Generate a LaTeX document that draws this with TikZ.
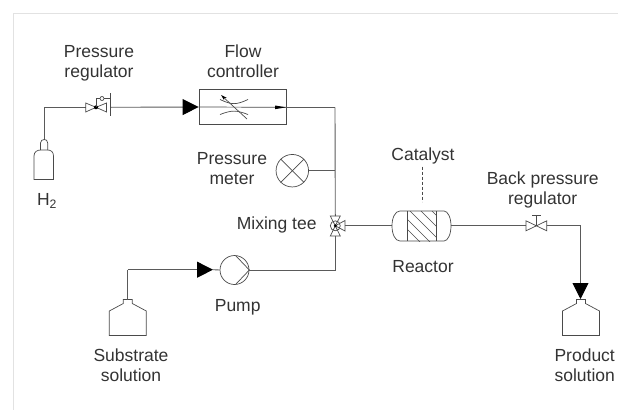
\documentclass[tikz,border=0pt]{standalone}
\usepackage{fontspec}
\setmainfont{Liberation Sans}
\usetikzlibrary{arrows.meta}
\definecolor{pipegray}{HTML}{5A5A5A}
\definecolor{symbgray}{HTML}{4A4A4A}
\definecolor{textgray}{HTML}{333333}
\definecolor{framegray}{HTML}{E2E2E2}
\tikzset{
  pipe/.style   = {draw=pipegray, line width=0.9pt},
  feed/.style   = {pipe, -{Triangle[length=16pt, width=16pt, color=black]}},
  symb/.style   = {draw=symbgray, line width=0.7pt},
  lbl/.style    = {align=center, inner sep=0pt, text=textgray,
                   font=\fontsize{17.5}{20}\selectfont},
  bottle/.pic   = {
    \draw[symb] (-18.5,36) -- (-18.5,11.5) -- (-4.5,4) -- (-4.5,0) -- (4.5,0)
      -- (4.5,4) -- (18.5,11.5) -- (18.5,36) -- cycle;
  },
}
\begin{document}
\begin{tikzpicture}[x=1pt, y=-1pt]
  \useasboundingbox (0,0) rectangle (618,410);
  % frame
  \draw[framegray, line width=1pt] (13.5,410) -- (13.5,13) -- (618,13);
  % hydrogen line
  \coordinate (cylTop) at (44.7,139.5);
  \coordinate (h2Bend) at (44.7,107.3);
  \coordinate (regIn) at (85.7,107.3);
  \coordinate (regOut) at (110,107.3);
  \node[draw=symbgray, line width=0.8pt, minimum width=87pt, minimum height=34.5pt,
    inner sep=0pt] (ctrl) at (242.5,107) {};
  \coordinate (ctrlOut) at (286,107.3);
  \coordinate (topBend) at (335,107.3);
  \draw[pipe] (cylTop) -- (h2Bend) -- (regIn);
  \draw[feed] (regOut) -- (ctrl.west);
  \draw[symb] (ctrl.west) -- (ctrlOut);
  \draw[pipe] (ctrlOut) -- (topBend);
  % gas cylinder
  \draw[symb] (40.5,150) -- (40.5,143) .. controls (40.5,140.5) and (42.5,139.5) .. (44.2,139.5)
    .. controls (46,139.5) and (47.7,140.5) .. (47.7,143) -- (47.7,150);
  \draw[symb] (34,179.5) -- (34,156) .. controls (34,152) and (37,150) .. (40.5,150)
    -- (47.7,150) .. controls (51,150) and (53.5,152) .. (53.5,156) -- (53.5,179.5) -- cycle;
  % pressure regulator
  \draw[symb] (96,107.3) -- (85.7,103) -- (85.7,112) -- cycle;
  \draw[symb] (96,107.3) -- (106.5,103) -- (106.5,112) -- cycle;
  \fill[black] (96,107.3) circle (2);
  \draw[symb] (96,107.3) -- (96,98.5) -- (100,98.5);
  \draw[symb] (102,98.5) circle (2);
  \draw[symb] (104,98.5) -- (110,98.5);
  \draw[symb] (110,93) -- (110,115.5);
  % flow controller
  \draw[symb] (220,99.5) .. controls (232,105) and (236,105) .. (248,99.5);
  \draw[symb] (220,114.5) .. controls (232,110) and (236,110) .. (248,114.5);
  \draw[symb, -{Stealth[length=6pt, width=3.5pt, color=black]}] (247,119) -- (221,95);
  \draw[fill=black, draw=none] (286,107.3) -- (275,105.5) -- (275,109.2) -- cycle;
  % pressure meter
  \node[draw=symbgray, line width=0.7pt, circle, minimum size=32.5pt, inner sep=0pt] (meter)
    at (292.3,170.7) {};
  \draw[symb] (meter.north west) -- (meter.south east);
  \draw[symb] (meter.north east) -- (meter.south west);
  \coordinate (meterTap) at (335,170.7);
  \draw[pipe] (meter.east) -- (meterTap);
  % mixing tee
  \coordinate (tee) at (335.3,225.8);
  \coordinate (teeTop) at (335.3,216);
  \coordinate (teeBot) at (335.3,236);
  \coordinate (teeRight) at (345,225.8);
  \draw[pipe] (topBend) -- (teeTop);
  \draw[symb] (tee) -- (330.3,216) -- (340.3,216) -- cycle;
  \draw[symb] (tee) -- (330.3,236) -- (340.3,236) -- cycle;
  \draw[symb] (tee) -- (345,220.5) -- (345,231) -- cycle;
  \draw[symb] (tee) circle (5);
  \fill[black] (tee) circle (1.6);
  % reactor
  \coordinate (reacIn) at (392,225.8);
  \coordinate (reacOut) at (451,225.8);
  \draw[pipe] (teeRight) -- (reacIn);
  \draw[symb] (407,211) -- (400,211) .. controls (395,211) and (392,218) .. (392,225.8)
    .. controls (392,234) and (395,241) .. (400,241) -- (436.7,241)
    -- (444,241) .. controls (448,241) and (451,234) .. (451,225.8)
    .. controls (451,218) and (448,211) .. (444,211) -- (407,211);
  \draw[symb] (407,211) -- (407,241);
  \draw[symb] (436.7,211) -- (436.7,241);
  \begin{scope}
    \clip (407,211) rectangle (436.7,241);
    \foreach \s in {-25,-14,-3,8,18}{
      \draw[symb] (407,211+\s) -- (447,251+\s);
    }
  \end{scope}
  \coordinate (catTop) at (422,166.5);
  \coordinate (catBot) at (422,201.5);
  \draw[draw=symbgray, line width=0.5pt, densely dashed] (catTop) -- (catBot);
  % back pressure regulator
  \coordinate (bprIn) at (526,225.8);
  \coordinate (bprOut) at (546.7,225.8);
  \coordinate (prodBend) at (580.5,225.8);
  \coordinate (prodTop) at (580.5,299);
  \draw[pipe] (reacOut) -- (bprIn);
  \draw[symb] (536.4,225.8) -- (526,220.8) -- (526,230.8) -- cycle;
  \draw[symb] (536.4,225.8) -- (546.7,220.8) -- (546.7,230.8) -- cycle;
  \draw[symb] (536.4,225.8) -- (536.4,215.8);
  \draw[symb] (532,215.8) -- (540.8,215.8);
  \draw[pipe] (bprOut) -- (prodBend);
  \draw[feed] (prodBend) -- (prodTop);
  \pic at (581,299.5) {bottle};
  % substrate line and pump
  \pic at (127.8,299.5) {bottle};
  \coordinate (subTop) at (127.7,299.5);
  \coordinate (subBend) at (127.7,269.7);
  \node[draw=symbgray, line width=0.7pt, circle, minimum size=29pt, inner sep=0pt] (pump)
    at (234.5,270) {};
  \coordinate (pumpTip) at (213,269.7);
  \coordinate (lowBend) at (335.3,270);
  \draw[pipe] (subTop) -- (subBend);
  \draw[feed] (subBend) -- (pumpTip);
  \draw[pipe] (pumpTip) -- (pump.west);
  \draw[symb] (235.7,255.7) -- (pump.east) -- (235.7,284.3);
  \draw[pipe] (pump.east) -- (lowBend) -- (teeBot);
  % labels
  \node[lbl] (lblReg) at (99,63) {Pressure\\regulator};
  \node[lbl] (lblCtrl) at (243,61) {Flow\\controller};
  \node[lbl] (lblH2) at (47,201) {H\textsubscript{2}};
  \node[lbl] (lblMeter) at (232,169) {Pressure\\meter};
  \node[lbl] (lblTee) at (276.7,225) {Mixing tee};
  \node[lbl] (lblCat) at (423,156) {Catalyst};
  \node[lbl] (lblReac) at (423,267) {Reactor};
  \node[lbl] (lblBpr) at (542.7,190) {Back pressure\\regulator};
  \node[lbl] (lblPump) at (237.7,307) {Pump};
  \node[lbl] (lblSub) at (131,365) {Substrate\\solution};
  \node[lbl] (lblProd) at (584.7,365) {Product\\solution};
\end{tikzpicture}
\end{document}
